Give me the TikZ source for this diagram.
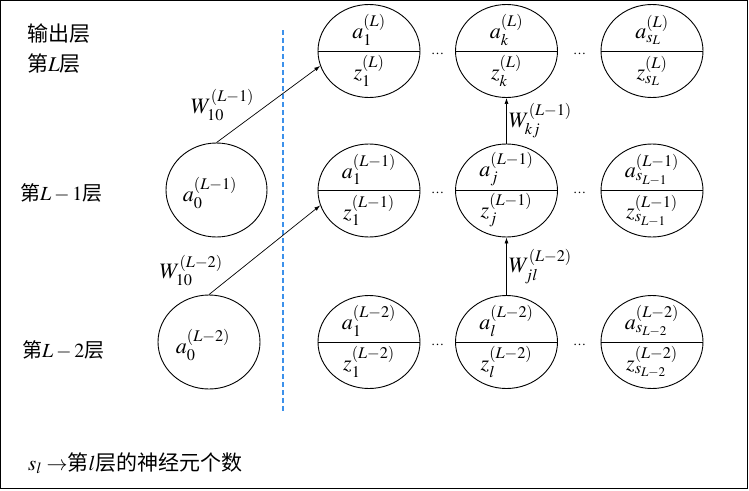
\documentclass[tikz,border=0pt]{standalone}
\usepackage{mathptmx}
\usepackage{fontspec}
\setmainfont{Liberation Serif}
\newfontfamily\cjk{Noto Sans CJK SC}
\usetikzlibrary{shapes.geometric, arrows.meta, positioning}
\definecolor{dashblue}{RGB}{60, 145, 235}

\begin{document}
\begin{tikzpicture}[x=1pt, y=-1pt,
        neuron/.style={draw, ellipse, line width=0.9pt, minimum width=102pt, minimum height=93pt, inner sep=0pt},
        upper/.style={font=\fontsize{22}{24}\selectfont, yshift=21pt},
        lower/.style={font=\fontsize{22}{24}\selectfont, yshift=-20pt},
        arrow/.style={-{Latex[length=6pt, width=4pt]}, line width=0.7pt},
        wlabel/.style={font=\fontsize{22}{24}\selectfont, inner sep=0pt},
        layer/.style={font=\fontsize{20}{24}\selectfont\cjk, anchor=west, inner sep=0pt},
        gap/.style={font=\fontsize{13}{14}\selectfont, anchor=base, inner sep=0pt}
    ]
        \useasboundingbox (0,0) rectangle (749,490);
        \draw[line width=1pt] (0.5,0.5) rectangle (747.5,488.5);

        % Layer names
        \node[layer, font=\fontsize{21}{24}\selectfont\cjk] (lblout) at (27,34) {输出层};
        \node[layer, font=\fontsize{21}{24}\selectfont\cjk] (lblL) at (27,64) {第$L$层};
        \node[layer] (lblLa) at (20,193) {第$L-1$层};
        \node[layer] (lblLb) at (22,350) {第$L-2$层};

        % Separator
        \coordinate (septop) at (283,30);
        \coordinate (sepbot) at (283,413);
        \draw[draw=dashblue, line width=1.1pt, dash pattern=on 5pt off 3pt] (septop) -- (sepbot);

        % Bias units
        \node[neuron, minimum width=101pt, minimum height=94pt] (bias1) at (216.5,190) {};
        \node[font=\fontsize{22}{24}\selectfont] (bias1a) at (210,193) {$a_0^{(L-1)}$};
        \node[neuron, minimum height=94pt] (bias2) at (209,342) {};
        \node[font=\fontsize{22}{24}\selectfont] (bias2a) at (203,345) {$a_0^{(L-2)}$};

        % Layer L
        \node[neuron] (out1) at (369,51) {};
        \node[upper] (out1a) at (out1) {$a_1^{(L)}$};
        \node[lower] (out1z) at (out1) {$z_1^{(L)}$};
        \node[neuron] (outk) at (506.5,51) {};
        \node[upper] (outka) at (outk) {$a_k^{(L)}$};
        \node[lower] (outkz) at (outk) {$z_k^{(L)}$};
        \node[neuron] (outs) at (652,51) {};
        \node[upper] (outsa) at (outs) {$a_{s_L}^{(L)}$};
        \node[lower] (outsz) at (outs) {$z_{s_L}^{(L)}$};

        % Layer L-1
        \node[neuron] (hid1) at (369,190.5) {};
        \node[upper] (hid1a) at (hid1) {$a_1^{(L-1)}$};
        \node[lower] (hid1z) at (hid1) {$z_1^{(L-1)}$};
        \node[neuron] (hidj) at (506.5,190.5) {};
        \node[upper] (hidja) at (hidj) {$a_j^{(L-1)}$};
        \node[lower] (hidjz) at (hidj) {$z_j^{(L-1)}$};
        \node[neuron] (hids) at (652,190.5) {};
        \node[upper] (hidsa) at (hids) {$a_{s_{L-1}}^{(L-1)}$};
        \node[lower] (hidsz) at (hids) {$z_{s_{L-1}}^{(L-1)}$};

        % Layer L-2
        \node[neuron] (in1) at (369,342) {};
        \node[upper] (in1a) at (in1) {$a_1^{(L-2)}$};
        \node[lower] (in1z) at (in1) {$z_1^{(L-2)}$};
        \node[neuron] (ini) at (506.5,342) {};
        \node[upper] (inia) at (ini) {$a_l^{(L-2)}$};
        \node[lower] (iniz) at (ini) {$z_l^{(L-2)}$};
        \node[neuron] (ins) at (652,342) {};
        \node[upper] (insa) at (ins) {$a_{s_{L-2}}^{(L-2)}$};
        \node[lower] (insz) at (ins) {$z_{s_{L-2}}^{(L-2)}$};

        % Dividers
        \draw[line width=0.9pt] (out1.west) -- (out1.east);
        \draw[line width=0.9pt] (outk.west) -- (outk.east);
        \draw[line width=0.9pt] (outs.west) -- (outs.east);
        \draw[line width=0.9pt] (hid1.west) -- (hid1.east);
        \draw[line width=0.9pt] (hidj.west) -- (hidj.east);
        \draw[line width=0.9pt] (hids.west) -- (hids.east);
        \draw[line width=0.9pt] (in1.west) -- (in1.east);
        \draw[line width=0.9pt] (ini.west) -- (ini.east);
        \draw[line width=0.9pt] (ins.west) -- (ins.east);

        % Dots
        \node[gap] (dots1) at (437.5,54) {\dots};
        \node[gap] (dots2) at (579.5,54) {\dots};
        \node[gap] (dots3) at (437.5,193.5) {\dots};
        \node[gap] (dots4) at (579.5,193.5) {\dots};
        \node[gap] (dots5) at (437.5,345) {\dots};
        \node[gap] (dots6) at (579.5,345) {\dots};

        % Weights
        \draw[arrow] (bias1.north) -- (out1.197) node[wlabel, pos=0.49, left=13pt] (w1) {$W_{10}^{(L-1)}$};
        \draw[arrow] (bias2.north) -- (hid1.197) node[wlabel, pos=0.27, left=16pt] (w2) {$W_{10}^{(L-2)}$};
        \draw[arrow] (hidj.north) -- (outk.south) node[wlabel, midway, right=2pt] (w3) {$W_{kj}^{(L-1)}$};
        \draw[arrow] (ini.north) -- (hidj.south) node[wlabel, midway, right=2pt] (w4) {$W_{jl}^{(L-2)}$};

        % Note
        \node[layer, font=\fontsize{21}{24}\selectfont\cjk] (note) at (28,463) {$s_l\rightarrow$第$l$层的神经元个数};
    \end{tikzpicture}
\end{document}
